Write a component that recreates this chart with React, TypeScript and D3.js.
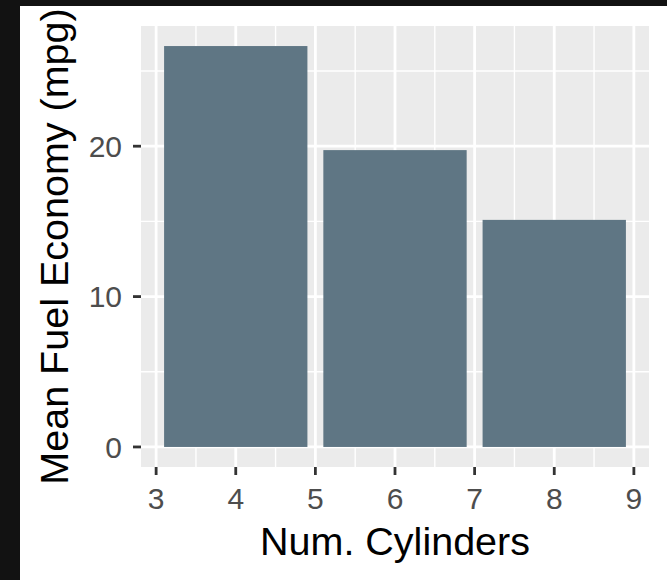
import React from "react";
import * as d3 from "d3";

const categories = [4, 6, 8];
const meanMpg = [26.66, 19.74, 15.1];
const xTicks = [3, 4, 5, 6, 7, 8, 9];
const xMinor = [3.5, 4.5, 5.5, 6.5, 7.5, 8.5];
const yTicks = [0, 10, 20];
const yMinor = [5, 15, 25];
const xTitle = "Num. Cylinders";
const yTitle = "Mean Fuel Economy (mpg)";

const W = 667;
const H = 580;
const panel = { left: 141, right: 649, top: 26, bottom: 467 };
const barWidth = 1.8;
const font = "'Liberation Sans', Arial, Helvetica, sans-serif";

export default function App() {
  const xMin = d3.min(categories)! - barWidth / 2;
  const xMax = d3.max(categories)! + barWidth / 2;
  const xPad = (xMax - xMin) * 0.05;
  const x = d3.scaleLinear().domain([xMin - xPad, xMax + xPad]).range([panel.left, panel.right]);
  const yMax = d3.max(meanMpg)!;
  const yPad = yMax * 0.05;
  const y = d3.scaleLinear().domain([-yPad, yMax + yPad]).range([panel.bottom, panel.top]);

  return (
    <svg width={W} height={H} style={{ position: "absolute", left: 0, top: 0 }}>
      <rect x={0} y={0} width={W} height={H} fill="#121212" />
      <rect x={20} y={6} width={W - 20} height={H - 6} fill="#ffffff" />
      <rect x={panel.left} y={panel.top} width={panel.right - panel.left} height={panel.bottom - panel.top} fill="#EBEBEB" />
      {yMinor.map((v) => (
        <line key={"ym" + v} x1={panel.left} x2={panel.right} y1={y(v)} y2={y(v)} stroke="#fff" strokeWidth={1.4} />
      ))}
      {xMinor.map((v) => (
        <line key={"xm" + v} y1={panel.top} y2={panel.bottom} x1={x(v)} x2={x(v)} stroke="#fff" strokeWidth={1.4} />
      ))}
      {yTicks.map((v) => (
        <line key={"yM" + v} x1={panel.left} x2={panel.right} y1={y(v)} y2={y(v)} stroke="#fff" strokeWidth={2.8} />
      ))}
      {xTicks.map((v) => (
        <line key={"xM" + v} y1={panel.top} y2={panel.bottom} x1={x(v)} x2={x(v)} stroke="#fff" strokeWidth={2.8} />
      ))}
      {categories.map((c, i) => (
        <rect
          key={"b" + c}
          x={x(c - barWidth / 2)}
          width={x(c + barWidth / 2) - x(c - barWidth / 2)}
          y={y(meanMpg[i])}
          height={y(0) - y(meanMpg[i])}
          fill="#5F7684"
        />
      ))}
      {yTicks.map((v) => (
        <g key={"yt" + v}>
          <line x1={panel.left - 8} x2={panel.left} y1={y(v)} y2={y(v)} stroke="#333" strokeWidth={2.8} />
          <text x={panel.left - 19} y={y(v)} dy="0.36em" textAnchor="end" fontFamily={font} fontSize={30} fill="#4D4D4D">
            {v}
          </text>
        </g>
      ))}
      {xTicks.map((v) => (
        <g key={"xt" + v}>
          <line x1={x(v)} x2={x(v)} y1={panel.bottom} y2={panel.bottom + 8} stroke="#333" strokeWidth={2.8} />
          <text x={x(v)} y={509} textAnchor="middle" fontFamily={font} fontSize={30} fill="#4D4D4D">
            {v}
          </text>
        </g>
      ))}
      <text x={(panel.left + panel.right) / 2} y={555} textAnchor="middle" fontFamily={font} fontSize={39.5} fill="#000">
        {xTitle}
      </text>
      <text
        transform={`translate(68,${(panel.top + panel.bottom) / 2}) rotate(-90)`}
        textAnchor="middle"
        fontFamily={font}
        fontSize={39.5}
        fill="#000"
      >
        {yTitle}
      </text>
    </svg>
  );
}
